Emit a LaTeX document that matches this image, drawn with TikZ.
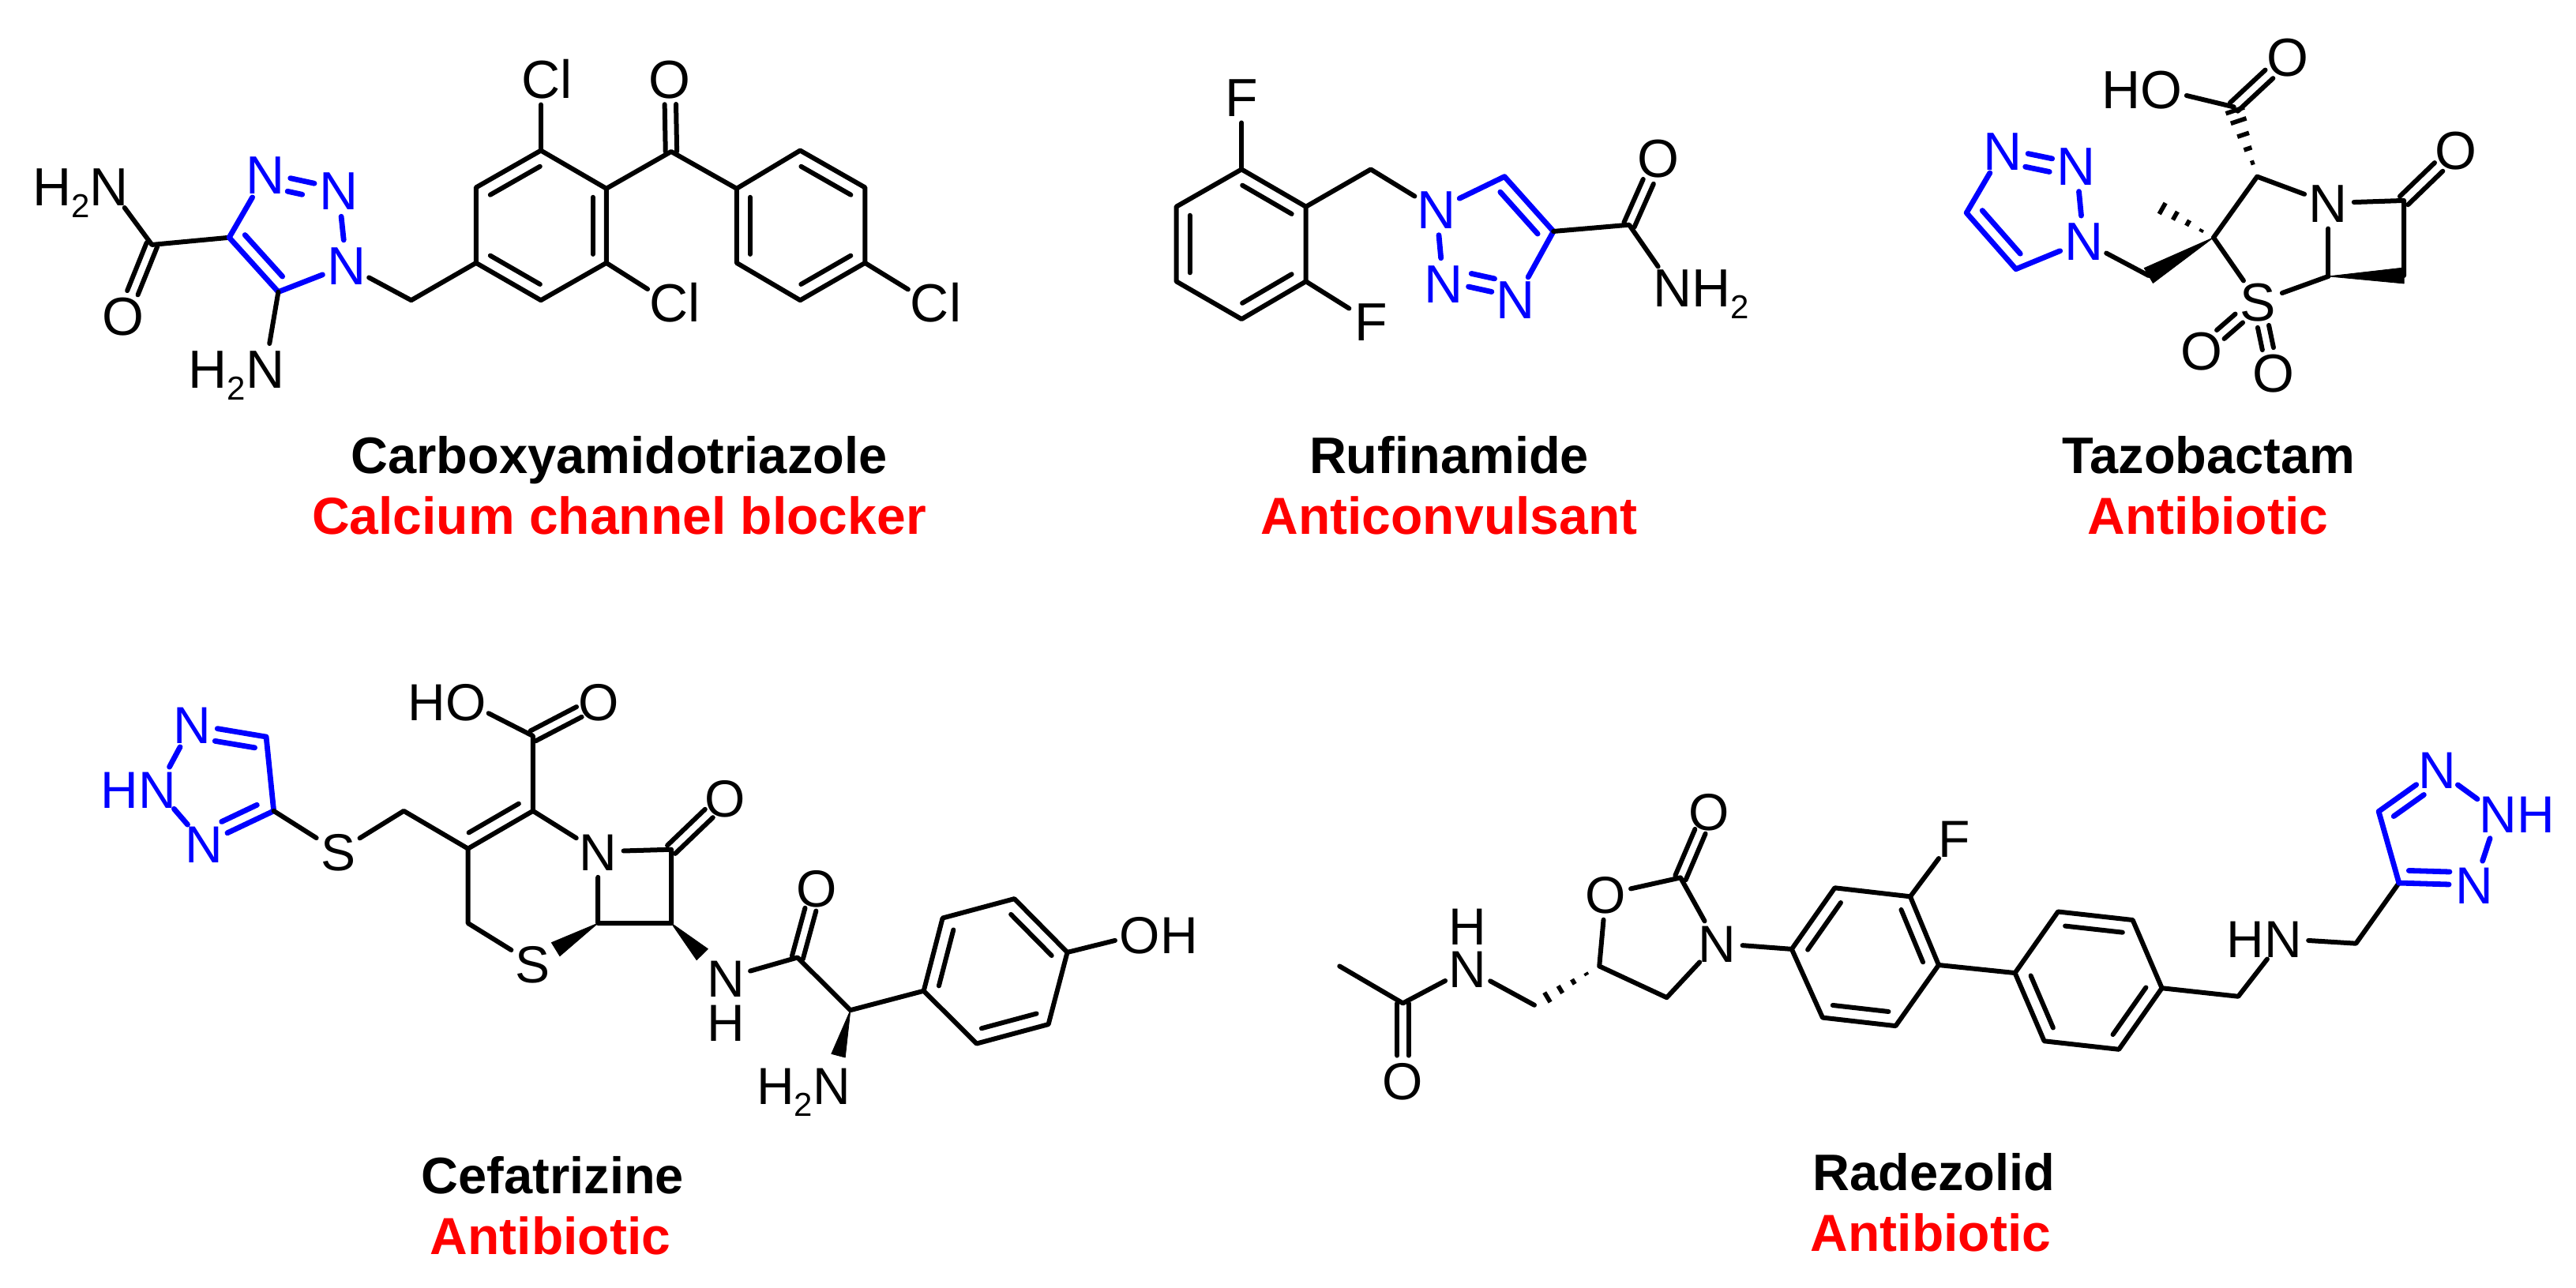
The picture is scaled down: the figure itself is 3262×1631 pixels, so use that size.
\documentclass[tikz,border=0pt]{standalone}
\usepackage{fontspec}
\setmainfont{Liberation Sans}
\usetikzlibrary{calc}
\definecolor{tblue}{RGB}{0,0,255}
\definecolor{tred}{RGB}{255,0,0}
\def\afont{\fontsize{34}{34}\selectfont}
\newcommand\subtwo{\raisebox{-7.5pt}{\fontsize{21}{21}\selectfont 2}}
\newcommand\atomtext[3]{\makebox[0pt][c]{\llap{#1}#2\rlap{#3}}}
\tikzset{
  atom/.style={circle,inner sep=0pt,minimum size=32pt,text height=24pt,text depth=0pt,font=\afont},
  blueatom/.style={atom,text=tblue},
  bond/.style={line width=3pt,line cap=round,line join=round},
  bluebond/.style={bond,tblue,line width=3.4pt},
  solidwedge/.style={fill=black,draw=black,line width=.4pt,line join=round},
  hashline/.style={line width=2.8pt},
  captionname/.style={anchor=base,font=\fontsize{32.5}{32.5}\selectfont\bfseries,inner sep=0pt},
  captionuse/.style={captionname,text=tred,font=\fontsize{33}{33}\selectfont\bfseries}
}
% atom node: [style]{name}{pos}{prefix}{letter}{suffix}
\newcommand\atm[5][atom]{\node[#1] (#2) at (#3) {\atomtext{#4}{#5}{}};}
\newcommand\atmr[5][atom]{\node[#1] (#2) at (#3) {\atomtext{}{#4}{#5}};}
% parallel bond: [style]{a}{b}{offset}{shorten at a}{shorten at b}
\newcommand\parbond[6][bond]{\draw[#1,shorten <=#5,shorten >=#6] ($(#2)!#4!90:(#3)$) -- ($(#3)!#4!-90:(#2)$);}
\newcommand\inbond[3][bond]{\parbond[#1]{#2}{#3}{8.5pt}{5.5pt}{5.5pt}}
\newcommand\wedgeb[3]{\fill[solidwedge] (#1) -- ($(#2)!#3!90:(#1)$) -- ($(#2)!#3!-90:(#1)$) -- cycle;}
\newcommand\hashb[4]{\foreach \t in {#4}{\draw[hashline] ($(#1)!\t!(#2)!\t*#3!90:(#2)$) -- ($(#1)!\t!(#2)!\t*#3!-90:(#2)$);}}
\begin{document}
\begin{tikzpicture}[x=.5pt,y=-.5pt]
\useasboundingbox (0,0) rectangle (3262,1631);

% ---------- Carboxyamidotriazole
\begin{scope}[x=.4146pt,y=-.2296pt]
\atm{aNa}{167,516}{H\subtwo}{N}
\atm{aOa}{188,872}{}{O}
\atm[blueatom]{aN3}{405,483}{}{N}
\atm[blueatom]{aN2}{517,527}{}{N}
\atm[blueatom]{aN1}{529,732}{}{N}
\atm{aNb}{405,1017}{H\subtwo}{N}
\atmr{aCl1}{826,218}{C}{l}
\atm{aOb}{1023,218}{}{O}
\atmr{aCl2}{1022,835}{C}{l}
\atmr{aCl3}{1420,835}{C}{l}
\coordinate (aC) at (232,675);
\coordinate (aC4) at (350,655);
\coordinate (aC5) at (425,805);
\coordinate (aM) at (628,828);
\coordinate (aA1) at (727,725);
\coordinate (aA2) at (727,517);
\coordinate (aA3) at (826,415);
\coordinate (aA4) at (926,520);
\coordinate (aA5) at (926,725);
\coordinate (aA6) at (826,828);
\coordinate (aK) at (1025,418);
\coordinate (aB1) at (1125,520);
\coordinate (aB2) at (1222,415);
\coordinate (aB3) at (1321,517);
\coordinate (aB4) at (1321,725);
\coordinate (aB5) at (1222,828);
\coordinate (aB6) at (1125,725);
\draw[bond] (aNa) -- (aC) -- (aC4);
\parbond{aC}{aOa}{3.6pt}{0pt}{16pt}
\parbond{aC}{aOa}{-3.6pt}{0pt}{16pt}
\draw[bluebond] (aN3) -- (aC4) -- (aC5) -- (aN1);
\inbond[bluebond]{aC4}{aC5}
\draw[bluebond] (aN1) -- (aN2);
\parbond[bluebond]{aN3}{aN2}{1.5pt}{16pt}{16pt}
\parbond[bluebond]{aN3}{aN2}{-7pt}{16pt}{22pt}
\draw[bond] (aC5) -- (aNb);
\draw[bond] (aN1) -- (aM) -- (aA1);
\draw[bond] (aA1) -- (aA2) -- (aA3) -- (aA4) -- (aA5) -- (aA6) -- cycle;
\inbond{aA3}{aA2}
\inbond{aA5}{aA4}
\inbond{aA1}{aA6}
\draw[bond] (aA3) -- (aCl1);
\draw[bond] (aA5) -- (aCl2);
\draw[bond] (aA4) -- (aK) -- (aB1);
\parbond{aK}{aOb}{3.6pt}{0pt}{16pt}
\parbond{aK}{aOb}{-3.6pt}{0pt}{16pt}
\draw[bond] (aB1) -- (aB2) -- (aB3) -- (aB4) -- (aB5) -- (aB6) -- cycle;
\inbond{aB1}{aB6}
\inbond{aB3}{aB2}
\inbond{aB5}{aB4}
\draw[bond] (aB4) -- (aCl3);
\end{scope}
\node[captionname] (capa) at (784,599) {Carboxyamidotriazole};
\node[captionuse] (usea) at (784,676) {Calcium channel blocker};

% ---------- Rufinamide
\begin{scope}[shift={(1400,0)},x=.2870pt,y=-.2296pt]
\atm{bF1}{300,268}{}{F}
\atm{bF2}{585,888}{}{F}
\atm[blueatom]{bN1}{730,578}{}{N}
\atm[blueatom]{bN2}{745,782}{}{N}
\atm[blueatom]{bN3}{905,826}{}{N}
\atm{bO}{1220,437}{}{O}
\atmr{bNH}{1251,793}{N}{H\subtwo}
\coordinate (bR1) at (300,467);
\coordinate (bR2) at (442,570);
\coordinate (bR3) at (442,776);
\coordinate (bR4) at (300,880);
\coordinate (bR5) at (156,776);
\coordinate (bR6) at (156,570);
\coordinate (bM) at (585,467);
\coordinate (bC4) at (988,638);
\coordinate (bC5) at (880,487);
\coordinate (bK) at (1155,620);
\draw[bond] (bR1) -- (bR2) -- (bR3) -- (bR4) -- (bR5) -- (bR6) -- cycle;
\inbond{bR2}{bR1}
\inbond{bR6}{bR5}
\inbond{bR4}{bR3}
\draw[bond] (bR1) -- (bF1);
\draw[bond] (bR3) -- (bF2);
\draw[bond] (bR2) -- (bM) -- (bN1);
\draw[bluebond] (bN1) -- (bC5) -- (bC4) -- (bN3);
\inbond[bluebond]{bC4}{bC5}
\draw[bluebond] (bN1) -- (bN2);
\parbond[bluebond]{bN2}{bN3}{1.5pt}{16pt}{16pt}
\parbond[bluebond]{bN2}{bN3}{10pt}{16pt}{16pt}
\draw[bond] (bC4) -- (bK) -- (bNH);
\parbond{bK}{bO}{3.6pt}{0pt}{16pt}
\parbond{bK}{bO}{-3.6pt}{0pt}{16pt}
\end{scope}
\node[captionname] (capb) at (1835,599) {Rufinamide};
\node[captionuse] (useb) at (1835,676) {Anticonvulsant};

% ---------- Tazobactam
\begin{scope}[shift={(2300,0)},x=.3067pt,y=-.2296pt]
\atm{cHO}{713,247}{H}{O}
\atm{cO1}{973,157}{}{O}
\atm{cO2}{1320,415}{}{O}
\atm{cN}{1057,560}{}{N}
\atm{cS}{912,832}{}{S}
\atm{cO3}{795,968}{}{O}
\atm{cO4}{943,1030}{}{O}
\atm[blueatom]{cN1}{552,665}{}{N}
\atm[blueatom]{cN2}{537,458}{}{N}
\atm[blueatom]{cN3}{385,416}{}{N}
\coordinate (cK) at (862,295);
\coordinate (cC2) at (910,487);
\coordinate (cC3) at (820,655);
\coordinate (cL) at (1213,553);
\coordinate (cB) at (1213,760);
\coordinate (cC6) at (1057,762);
\coordinate (cM) at (686,760);
\coordinate (cMe) at (688,555);
\coordinate (cC4) at (310,587);
\coordinate (cC5) at (412,742);
\draw[bond] (cHO) -- (cK);
\parbond{cK}{cO1}{3.6pt}{0pt}{16pt}
\parbond{cK}{cO1}{-3.6pt}{0pt}{16pt}
\hashb{cC2}{cK}{6.5pt}{.2,.4,.6,.8,.95}
\draw[bond] (cC3) -- (cC2) -- (cN) -- (cL) -- (cB);
\parbond{cL}{cO2}{3.7pt}{0pt}{15pt}
\parbond{cL}{cO2}{-3.7pt}{0pt}{15pt}
\draw[bond] (cN) -- (cC6);
\wedgeb{cC6}{cB}{5pt}
\draw[bond] (cC6) -- (cS) -- (cC3);
\parbond{cS}{cO3}{3.6pt}{16pt}{16pt}
\parbond{cS}{cO3}{-3.6pt}{16pt}{16pt}
\parbond{cS}{cO4}{3.6pt}{16pt}{16pt}
\parbond{cS}{cO4}{-3.6pt}{16pt}{16pt}
\hashb{cC3}{cMe}{5pt}{.19,.4,.6,.8,1}
\wedgeb{cC3}{cM}{5.5pt}
\draw[bond] (cM) -- (cN1);
\draw[bluebond] (cN1) -- (cC5) -- (cC4) -- (cN3);
\inbond[bluebond]{cC4}{cC5}
\draw[bluebond] (cN1) -- (cN2);
\parbond[bluebond]{cN3}{cN2}{1.5pt}{16pt}{16pt}
\parbond[bluebond]{cN3}{cN2}{-7pt}{16pt}{16pt}
\end{scope}
\node[captionname] (capc) at (2797,599) {Tazobactam};
\node[captionuse] (usec) at (2796,676) {Antibiotic};

% ---------- Cefatrizine
\def\afont{\fontsize{33}{33}\selectfont}
\begin{scope}[shift={(50,780)},x=.4785pt,y=-.2713pt]
\atm[blueatom]{dN1}{202,253}{}{N}
\atm[blueatom]{dN2}{156,405}{H}{N}
\atm[blueatom]{dN3}{218,532}{}{N}
\atm{dS1}{395,550}{}{S}
\atm{dHO}{564,200}{H}{O}
\atm{dO1}{740,200}{}{O}
\atm{dN}{739,550}{}{N}
\atm{dO2}{907,425}{}{O}
\atm{dS2}{653,811}{}{S}
\atm{dNH}{908,845}{}{N}
\atm{dH}{908,949}{}{H}
\atm{dO3}{1028,635}{}{O}
\atm{dNb}{1048,1095}{H\subtwo}{N}
\atmr{dOH}{1456,743}{O}{H}
\coordinate (dT1) at (300,282);
\coordinate (dT2) at (310,455);
\coordinate (dM) at (482,455);
\coordinate (dC3) at (567,543);
\coordinate (dC2) at (653,455);
\coordinate (dK) at (653,280);
\coordinate (dC8) at (836,545);
\coordinate (dC7) at (836,717);
\coordinate (dC6) at (739,717);
\coordinate (dC4) at (567,717);
\coordinate (dW1) at (683,778);
\coordinate (dW2) at (877,790);
\coordinate (dW3) at (1057,1026);
\coordinate (dA) at (1003,797);
\coordinate (dCH) at (1073,920);
\coordinate (dP1) at (1170,875);
\coordinate (dP2) at (1195,705);
\coordinate (dP3) at (1290,660);
\coordinate (dP4) at (1360,785);
\coordinate (dP5) at (1335,953);
\coordinate (dP6) at (1240,998);
\draw[bluebond] (dN1) -- (dT1) -- (dT2) -- (dN3);
\parbond[bluebond]{dT1}{dN1}{8pt}{6pt}{16pt}
\parbond[bluebond]{dN3}{dT2}{8pt}{16pt}{8pt}
\draw[bluebond] (dN1) -- (dN2) -- (dN3);
\draw[bond] (dT2) -- (dS1) -- (dM) -- (dC3);
\draw[bond] (dC3) -- (dC2) -- (dK) -- (dHO);
\inbond{dC3}{dC2}
\parbond{dK}{dO1}{3.6pt}{0pt}{14pt}
\parbond{dK}{dO1}{-3.6pt}{0pt}{14pt}
\draw[bond] (dC2) -- (dN) -- (dC8) -- (dC7) -- (dC6) -- (dN);
\parbond{dC8}{dO2}{3.6pt}{0pt}{14pt}
\parbond{dC8}{dO2}{-3.6pt}{0pt}{14pt}
\draw[bond] (dC3) -- (dC4) -- (dS2);
\wedgeb{dC6}{dW1}{5pt}
\wedgeb{dC7}{dW2}{5pt}
\draw[bond] (dNH) -- (dA) -- (dCH) -- (dP1);
\parbond{dA}{dO3}{3.6pt}{0pt}{14pt}
\parbond{dA}{dO3}{-3.6pt}{0pt}{14pt}
\wedgeb{dCH}{dW3}{4.5pt}
\draw[bond] (dP1) -- (dP2) -- (dP3) -- (dP4) -- (dP5) -- (dP6) -- cycle;
\inbond{dP2}{dP1}
\inbond{dP4}{dP3}
\inbond{dP6}{dP5}
\draw[bond] (dP4) -- (dOH);
\end{scope}
\node[captionname] (capd) at (700,1511) {Cefatrizine};
\node[captionuse] (used) at (697,1588) {Antibiotic};

% ---------- Radezolid
\begin{scope}[shift={(1650,880)},x=.5140pt,y=-.2395pt]
\atm{eO1}{123,1020}{}{O}
\atm{eN1}{203,724}{}{N}
\atm{eH}{203,610}{}{H}
\atm{eO2}{373,527}{}{O}
\atm{eO3}{500,307}{}{O}
\atm{eN2}{510,657}{}{N}
\atm{eF}{802,378}{}{F}
\atm{eN3}{1207,645}{H}{N}
\atm[blueatom]{eN4}{1397,198}{}{N}
\atmr[blueatom]{eN5}{1472,315}{N}{H}
\atm[blueatom]{eN6}{1443,503}{}{N}
\coordinate (eMe) at (45,717);
\coordinate (eK) at (123,815);
\coordinate (eM) at (285,820);
\coordinate (eC5) at (365,717);
\coordinate (eC2) at (465,483);
\coordinate (eC4) at (448,800);
\coordinate (eQ1) at (602,672);
\coordinate (eQ2) at (655,510);
\coordinate (eQ3) at (748,533);
\coordinate (eQ4) at (783,714);
\coordinate (eQ5) at (730,875);
\coordinate (eQ6) at (640,853);
\coordinate (eS1) at (877,735);
\coordinate (eS2) at (930,573);
\coordinate (eS3) at (1022,595);
\coordinate (eS4) at (1058,775);
\coordinate (eS5) at (1005,937);
\coordinate (eS6) at (913,915);
\coordinate (eM2) at (1152,797);
\coordinate (eM3) at (1297,657);
\coordinate (eT1) at (1350,497);
\coordinate (eT2) at (1325,308);
\draw[bond] (eMe) -- (eK) -- (eN1) -- (eM);
\parbond{eK}{eO1}{3.6pt}{0pt}{16pt}
\parbond{eK}{eO1}{-3.6pt}{0pt}{16pt}
\hashb{eC5}{eM}{4.5pt}{.2,.4,.6,.8}
\draw[bond] (eC5) -- (eO2) -- (eC2) -- (eN2) -- (eC4) -- (eC5);
\parbond{eC2}{eO3}{3.6pt}{0pt}{14pt}
\parbond{eC2}{eO3}{-3.6pt}{0pt}{14pt}
\draw[bond] (eN2) -- (eQ1);
\draw[bond] (eQ1) -- (eQ2) -- (eQ3) -- (eQ4) -- (eQ5) -- (eQ6) -- cycle;
\inbond{eQ2}{eQ1}
\inbond{eQ4}{eQ3}
\inbond{eQ6}{eQ5}
\draw[bond] (eQ3) -- (eF);
\draw[bond] (eQ4) -- (eS1);
\draw[bond] (eS1) -- (eS2) -- (eS3) -- (eS4) -- (eS5) -- (eS6) -- cycle;
\inbond{eS1}{eS6}
\inbond{eS3}{eS2}
\inbond{eS5}{eS4}
\draw[bond] (eS4) -- (eM2) -- (eN3) -- (eM3) -- (eT1);
\draw[bluebond] (eT1) -- (eT2) -- (eN4);
\parbond[bluebond]{eN4}{eT2}{8pt}{16pt}{6pt}
\draw[bluebond] (eN4) -- (eN5) -- (eN6) -- (eT1);
\parbond[bluebond]{eT1}{eN6}{8pt}{6pt}{16pt}
\end{scope}
\node[captionname] (cape) at (2449,1507) {Radezolid};
\node[captionuse] (usee) at (2445,1584) {Antibiotic};
\end{tikzpicture}
\end{document}
